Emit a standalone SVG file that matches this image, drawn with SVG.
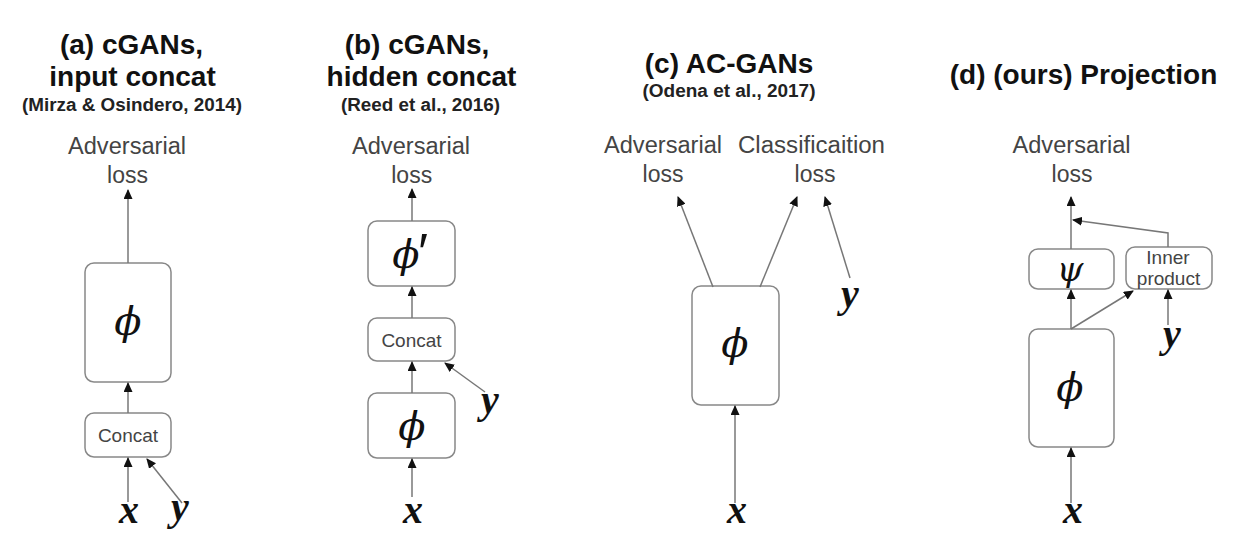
<svg xmlns="http://www.w3.org/2000/svg" width="1243" height="549" viewBox="0 0 1243 549">
<style>
.title{font-family:"Liberation Sans",Arial,sans-serif;font-weight:bold;font-size:28px;fill:#111;text-anchor:middle}
.sub{font-family:"Liberation Sans",Arial,sans-serif;font-weight:bold;font-size:18px;fill:#222;text-anchor:middle}
.lbl{font-family:"Liberation Sans",Arial,sans-serif;font-size:23px;fill:#444;text-anchor:middle}
.small{font-family:"Liberation Sans",Arial,sans-serif;font-size:19px;fill:#444;text-anchor:middle}
.box{fill:#fff;stroke:#888;stroke-width:1.5}
.math{font-family:"DejaVu Serif","Liberation Serif",serif;font-style:italic;fill:#111;text-anchor:middle}
.var{font-family:"Liberation Serif",serif;font-style:italic;font-weight:bold;font-size:40px;fill:#111;text-anchor:middle}
.conn line,.conn polyline{stroke:#777;stroke-width:1.5;fill:none;marker-end:url(#ah)}
</style>
<defs>
<marker id="ah" markerUnits="userSpaceOnUse" markerWidth="10" markerHeight="9" refX="9" refY="4.5" orient="auto">
<path d="M0,0 L10,4.5 L0,9 z" fill="#111"/>
</marker>
</defs>
<rect width="1243" height="549" fill="#fff"/>

<g id="panel-a">
<text class="title" x="131.5" y="54">(a) cGANs,</text>
<text class="title" x="132.5" y="86">input concat</text>
<text class="sub" x="132" y="111" textLength="220" lengthAdjust="spacingAndGlyphs">(Mirza &amp; Osindero, 2014)</text>
<g id="a-loss"><text class="lbl" x="127" y="154" textLength="118" lengthAdjust="spacingAndGlyphs">Adversarial</text><text class="lbl" x="127.5" y="183">loss</text></g>
<g id="a-phi"><rect class="box" x="85" y="263" width="86" height="119" rx="9"/><text class="math" x="128" y="335" font-size="40">ϕ</text></g>
<g id="a-concat"><rect class="box" x="85" y="413" width="86" height="44" rx="9"/><text class="small" x="128" y="442">Concat</text></g>
<g id="a-x"><text class="var" x="129" y="523">x</text></g>
<g id="a-y"><text class="var" x="180" y="520">y</text></g>
</g>

<g id="panel-b">
<text class="title" x="417" y="54">(b) cGANs,</text>
<text class="title" x="421.5" y="86">hidden concat</text>
<text class="sub" x="420.5" y="111" textLength="159" lengthAdjust="spacingAndGlyphs">(Reed et al., 2016)</text>
<g id="b-loss"><text class="lbl" x="411" y="154" textLength="118" lengthAdjust="spacingAndGlyphs">Adversarial</text><text class="lbl" x="411.7" y="183">loss</text></g>
<g id="b-phiprime"><rect class="box" x="368" y="221" width="87" height="65" rx="9"/><text class="math" x="406" y="268" font-size="40">ϕ</text><text x="423" y="270" font-family="Liberation Sans, sans-serif" font-size="52" fill="#111" text-anchor="middle">′</text></g>
<g id="b-concat"><rect class="box" x="368" y="318" width="87" height="43" rx="9"/><text class="small" x="411.5" y="347">Concat</text></g>
<g id="b-phi"><rect class="box" x="368" y="393" width="87" height="65" rx="9"/><text class="math" x="412" y="440" font-size="40">ϕ</text></g>
<g id="b-x"><text class="var" x="413" y="523">x</text></g>
<g id="b-y"><text class="var" x="490" y="413">y</text></g>
</g>

<g id="panel-c">
<text class="title" x="729" y="73">(c) AC-GANs</text>
<text class="sub" x="729" y="97" textLength="173" lengthAdjust="spacingAndGlyphs">(Odena et al., 2017)</text>
<g id="c-adv"><text class="lbl" x="663" y="153" textLength="118" lengthAdjust="spacingAndGlyphs">Adversarial</text><text class="lbl" x="663" y="182">loss</text></g>
<g id="c-cls"><text class="lbl" x="811.5" y="153" textLength="147" lengthAdjust="spacingAndGlyphs">Classificaition</text><text class="lbl" x="815" y="182">loss</text></g>
<g id="c-phi"><rect class="box" x="692" y="286" width="87" height="119" rx="9"/><text class="math" x="735" y="357" font-size="40">ϕ</text></g>
<g id="c-x"><text class="var" x="737" y="523">x</text></g>
<g id="c-y"><text class="var" x="850" y="307">y</text></g>
</g>

<g id="panel-d">
<text class="title" x="1083.5" y="84">(d) (ours) Projection</text>
<g id="d-loss"><text class="lbl" x="1071.5" y="153" textLength="118" lengthAdjust="spacingAndGlyphs">Adversarial</text><text class="lbl" x="1072" y="182">loss</text></g>
<g id="d-psi"><rect class="box" x="1029" y="249" width="85" height="40" rx="9"/><text class="math" x="1070" y="281" font-size="34">ψ</text></g>
<g id="d-inner"><rect class="box" x="1126" y="247" width="86" height="42" rx="9"/><text class="small" x="1168" y="264">Inner</text><text class="small" x="1168.5" y="285">product</text></g>
<g id="d-phi"><rect class="box" x="1029" y="329" width="85" height="118" rx="9"/><text class="math" x="1070" y="401" font-size="40">ϕ</text></g>
<g id="d-x"><text class="var" x="1073" y="523">x</text></g>
<g id="d-y"><text class="var" x="1172" y="347">y</text></g>
</g>

<g id="connectors" class="conn">
<line x1="128" y1="263" x2="128" y2="190"/>
<line x1="128" y1="413" x2="128" y2="383"/>
<line x1="128" y1="502" x2="128" y2="458"/>
<line x1="182" y1="503" x2="147" y2="459"/>
<line x1="412" y1="221" x2="412" y2="189"/>
<line x1="412" y1="318" x2="412" y2="287"/>
<line x1="412" y1="393" x2="412" y2="362"/>
<line x1="412" y1="497" x2="412" y2="459"/>
<line x1="485" y1="392" x2="445" y2="363"/>
<line x1="713" y1="287" x2="678" y2="197"/>
<line x1="760" y1="287" x2="797" y2="197"/>
<line x1="850" y1="278" x2="825" y2="197"/>
<line x1="735" y1="503" x2="735" y2="406"/>
<line x1="1071" y1="249" x2="1071" y2="197"/>
<polyline points="1168,247 1168,233 1073,220"/>
<line x1="1071" y1="329" x2="1071" y2="290"/>
<line x1="1071" y1="329" x2="1133" y2="291"/>
<line x1="1168" y1="325" x2="1168" y2="290"/>
<line x1="1071" y1="503" x2="1071" y2="448"/>
</g>
</svg>
